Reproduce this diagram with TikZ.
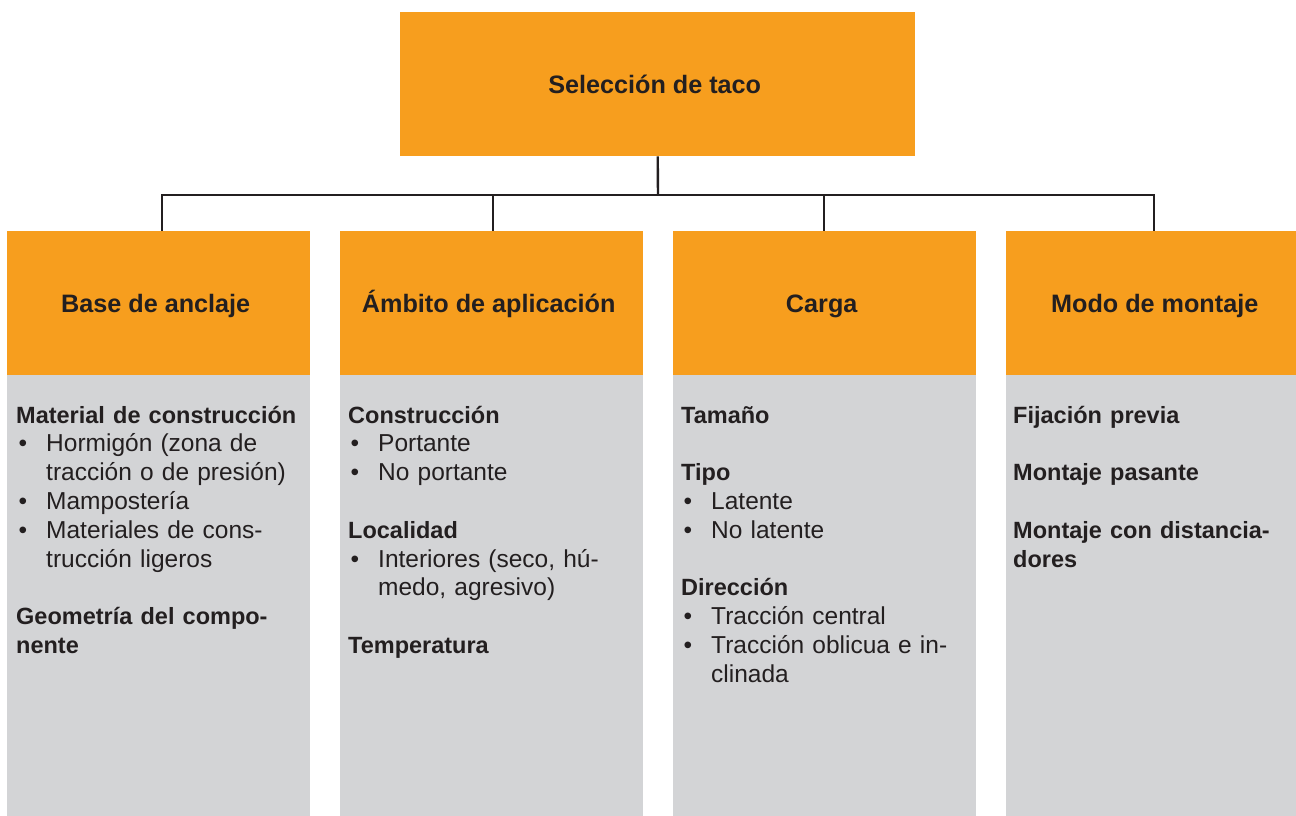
\documentclass[tikz,border=0pt]{standalone}
\usepackage{fontspec}
\setmainfont{Liberation Sans}
\definecolor{org}{HTML}{F79E1E}
\definecolor{gry}{HTML}{D3D4D6}
\definecolor{ink}{HTML}{231F20}
\newcommand{\bulitem}{\makebox[30pt][l]{\hspace{2.5pt}•}}
\newcommand{\contind}{\hspace*{30pt}}
\newcommand{\hd}[1]{{\fontsize{23.5}{28.8}\selectfont\bfseries #1}}
\begin{document}
\begin{tikzpicture}[x=1pt,y=-1pt,
  orangebox/.style={fill=org, draw=none, minimum width=303pt, minimum height=144pt,
    anchor=north west, inner sep=0pt, text height=18.5pt, text depth=0pt,
    font=\fontsize{25.2}{30}\selectfont\bfseries, text=ink},
  greybox/.style={fill=gry, draw=none, minimum width=303pt, minimum height=441pt,
    anchor=north west, inner sep=0pt},
  bodytext/.style={anchor=base west, inner sep=0pt, align=left, text width=298pt,
    font=\fontsize{24.5}{28.8}\selectfont, text=ink},
  link/.style={draw=ink, line width=2.4pt}]
\clip (0,0) rectangle (1296,816);
\fill[white] (0,0) rectangle (1296,816);

\node[orangebox, minimum width=515pt] (top) at (400,12) {Selección de taco\hspace*{6pt}};

\node[orangebox] (h1) at (7,231) {Base de anclaje\hspace*{6pt}};
\node[orangebox] (h2) at (340,231) {Ámbito de aplicación\hspace*{6pt}};
\node[orangebox] (h3) at (673,231) {Carga\hspace*{6pt}};
\node[orangebox] (h4) at (1006,231) {Modo de montaje\hspace*{6pt}};

\node[greybox] (g1) at (7,375) {};
\node[greybox] (g2) at (340,375) {};
\node[greybox] (g3) at (673,375) {};
\node[greybox] (g4) at (1006,375) {};

\coordinate (j) at (658,195);
\draw[link] (top.south) -- (j);
\draw[link] (j) -| ([xshift=3.5pt]h1.north);
\draw[link] (j) -| ([xshift=1.5pt]h2.north);
\draw[link] (j) -| ([xshift=-0.5pt]h3.north);
\draw[link] (j) -| ([xshift=-3.5pt]h4.north);

\node[bodytext] (t1) at (16,423) {\hd{Material de construcción}\\
\bulitem Hormigón (zona de\\
\contind tracción o de presión)\\
\bulitem Mampostería\\
\bulitem Materiales de cons-\\
\contind trucción ligeros\\[28.8pt]
\hd{Geometría del compo-}\\
\hd{nente}};

\node[bodytext] (t2) at (348,423) {\hd{Construcción}\\
\bulitem Portante\\
\bulitem No portante\\[28.8pt]
\hd{Localidad}\\
\bulitem Interiores (seco, hú-\\
\contind medo, agresivo)\\[28.8pt]
\hd{Temperatura}};

\node[bodytext] (t3) at (681,423) {\hd{Tamaño}\\[28.8pt]
\hd{Tipo}\\
\bulitem Latente\\
\bulitem No latente\\[28.8pt]
\hd{Dirección}\\
\bulitem Tracción central\\
\bulitem Tracción oblicua e in-\\
\contind clinada};

\node[bodytext] (t4) at (1013,423) {\hd{Fijación previa}\\[28.8pt]
\hd{Montaje pasante}\\[28.8pt]
\hd{Montaje con distancia-}\\
\hd{dores}};
\end{tikzpicture}
\end{document}
